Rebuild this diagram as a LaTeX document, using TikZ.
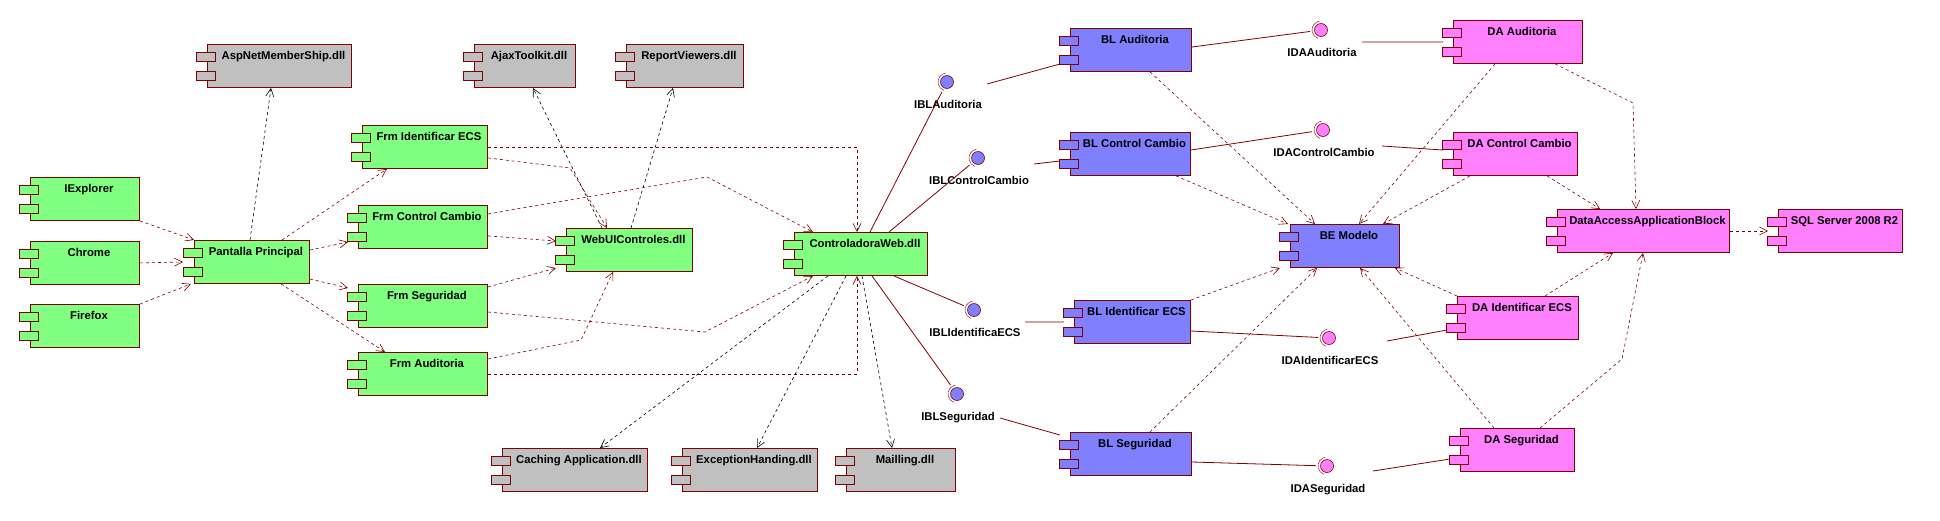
\documentclass[tikz,border=0pt]{standalone}
\usepackage{fontspec}
\setmainfont{Liberation Sans}
\usetikzlibrary{calc}
\usetikzlibrary{arrows.meta}
\usepackage{xcolor}
\definecolor{borde}{HTML}{800000}
\definecolor{verde}{HTML}{80FF80}
\definecolor{gris}{HTML}{C0C0C0}
\definecolor{azul}{HTML}{8080FF}
\definecolor{rosa}{HTML}{FF80FF}

\begin{document}
\begin{tikzpicture}[x=1pt,y=-1pt,
  comp/.style={rectangle,draw=borde,line width=0.9pt,minimum height=43pt,inner sep=0pt,anchor=north west},
  tabbox/.style={draw=borde,line width=0.9pt},
  rotulo/.style={font=\bfseries\fontsize{11.3}{13}\selectfont,inner sep=0pt,text=black},
  iface/.style={circle,draw=borde,line width=0.6pt,minimum size=13pt,inner sep=0pt},
  anillo/.style={draw=borde,line width=0.4pt},
  dep/.style={draw=borde,line width=0.6pt,dash pattern=on 3pt off 3pt,arrows={-{Straight Barb[length=8pt,width=8pt]}}},
  libdep/.style={dep,draw=black},
  wire/.style={draw=borde,line width=0.8pt},
  wirei/.style={wire,shorten >=11pt}]
\newcommand{\componente}[6]{
  \node[comp,fill=#5,minimum width={(#4-#2)*1pt}] (#1) at (#2,#3) {};
  \draw[tabbox,fill=#5] ($(#1.north west)+(-11,8)$) rectangle ++(19,9);
  \draw[tabbox,fill=#5] ($(#1.north west)+(-11,27)$) rectangle ++(19,9);
  \node[rotulo,anchor=base] (#1-t) at ($(#1.north)+(4,15)$) {#6};
}
\newcommand{\interfaz}[5]{
  \node[iface,fill=#4] (#1) at (#2,#3) {};
  \draw[anillo] ($(#1)+(-100:9)$) arc[start angle=-100,end angle=-250,radius=9];
  \node[rotulo,anchor=base] (#1-t) at ($(#1)+(1,26)$) {#5};
}
\useasboundingbox (0,0) rectangle (1940,520);

\componente{asp}{207}{44}{351}{gris}{AspNetMemberShip.dll}
\componente{ajax}{474}{44}{575}{gris}{AjaxToolkit.dll}
\componente{rep}{626}{44}{743}{gris}{ReportViewers.dll}
\componente{ie}{30}{177}{139}{verde}{IExplorer}
\componente{ch}{30}{241}{139}{verde}{Chrome}
\componente{ff}{30}{304}{139}{verde}{Firefox}
\componente{pp}{194}{240}{309}{verde}{Pantalla Principal}
\componente{fie}{362}{125}{487}{verde}{Frm Identificar ECS}
\componente{fcc}{358}{205}{487}{verde}{Frm Control Cambio}
\componente{fseg}{358}{284}{487}{verde}{Frm Seguridad}
\componente{faud}{358}{352}{487}{verde}{Frm Auditoria}
\componente{webui}{566}{228}{692}{verde}{WebUIControles.dll}
\componente{ctrl}{794}{232}{927}{verde}{ControladoraWeb.dll}
\componente{cach}{502}{448}{647}{gris}{Caching Application.dll}
\componente{exc}{682}{448}{817}{gris}{ExceptionHanding.dll}
\componente{mail}{846}{448}{955}{gris}{Mailling.dll}
\componente{blaud}{1070}{28}{1191}{azul}{BL Auditoria}
\componente{blcc}{1070}{132}{1190}{azul}{BL Control Cambio}
\componente{blie}{1074}{300}{1190}{azul}{BL Identificar ECS}
\componente{blseg}{1070}{432}{1191}{azul}{BL Seguridad}
\componente{bem}{1290}{224}{1399}{azul}{BE Modelo}
\componente{daaud}{1453}{20}{1582}{rosa}{DA Auditoria}
\componente{dacc}{1453}{132}{1577}{rosa}{DA Control Cambio}
\componente{daie}{1457}{296}{1578}{rosa}{DA Identificar ECS}
\componente{daseg}{1460}{428}{1574}{rosa}{DA Seguridad}
\componente{daab}{1557}{209}{1729}{rosa}{DataAccessApplicationBlock}
\componente{sql}{1778}{209}{1902}{rosa}{SQL Server 2008 R2}

\interfaz{iblaud}{947}{82}{azul}{IBLAuditoria}
\interfaz{iblcc}{978}{158}{azul}{IBLControlCambio}
\interfaz{iblie}{974}{310}{azul}{IBLIdentificaECS}
\interfaz{iblseg}{957}{394}{azul}{IBLSeguridad}
\interfaz{idaaud}{1321}{30}{rosa}{IDAAuditoria}
\interfaz{idacc}{1323}{130}{rosa}{IDAControlCambio}
\interfaz{idaie}{1329}{338}{rosa}{IDAIdentificarECS}
\interfaz{idaseg}{1327}{466}{rosa}{IDASeguridad}

\draw[dep] (ie.south east) -- (pp.north west);
\draw[dep] (ch.east) -- ($(pp.west)+(-11,0)$);
\draw[dep] (ff.north east) -- ($(pp.south west)+(-3,0)$);
\draw[libdep] ($(pp.north west)+(56,0)$) -- ($(asp.south west)+(64,0)$);
\draw[dep] ($(pp.north west)+(88,0)$) -- ($(fie.south west)+(25,0)$);
\draw[dep] ($(pp.north east)+(0,10)$) -- ($(fcc.north west)+(-10,37)$);
\draw[dep] ($(pp.north east)+(0,39)$) -- ($(fseg.north west)+(-10,4)$);
\draw[dep] ($(pp.south west)+(87,0)$) -- ($(faud.north west)+(27,0)$);

\draw[dep] (fie.east) -| ($(ctrl.north west)+(63,0)$);
\draw[dep] ($(fie.south east)+(0,-11)$) -- (570,168) -- ($(webui.north west)+(41,0)$);
\draw[dep] ($(fcc.north east)+(0,9)$) -- (516,209) -- (707,177) -- ($(ctrl.north west)+(19,0)$);
\draw[dep] ($(fcc.south east)+(0,-13)$) -- ($(webui.north west)+(-10,13)$);
\draw[dep] ($(fseg.north east)+(0,3)$) -- ($(webui.north west)+(-10,40)$);
\draw[dep] ($(fseg.north east)+(0,28)$) -- (705,332) -- ($(ctrl.south west)+(19,0)$);
\draw[dep] ($(faud.north east)+(0,7)$) -- (581,340) -- ($(webui.south west)+(47,0)$);
\draw[dep] ($(faud.north east)+(0,22)$) -| ($(ctrl.south west)+(63,0)$);

\draw[libdep] ($(webui.north west)+(36,0)$) -- ($(ajax.south west)+(59,0)$);
\draw[libdep] ($(webui.north west)+(65,0)$) -- ($(rep.south west)+(47,0)$);
\draw[libdep] ($(ctrl.south west)+(34,0)$) -- ($(cach.north west)+(98,0)$);
\draw[libdep] ($(ctrl.south west)+(52,0)$) -- ($(exc.north west)+(75,0)$);
\draw[libdep] ($(ctrl.south west)+(68,0)$) -- ($(mail.north west)+(46,0)$);

\draw[wirei] ($(ctrl.north west)+(76,0)$) -- (iblaud.center);
\draw[wirei] ($(ctrl.north west)+(95,0)$) -- (iblcc.center);
\draw[wirei] ($(ctrl.south east)+(-34,0)$) -- (iblie.center);
\draw[wirei] ($(ctrl.south west)+(78,0)$) -- (iblseg.center);
\draw[wire] ($(iblaud)+(40,2)$) -- ($(blaud.north west)+(-10,36)$);
\draw[wire] ($(iblcc)+(56,6)$) -- ($(blcc.north west)+(-10,29)$);
\draw[wire] ($(iblie)+(51,12)$) -- ($(blie.west)+(-10,0)$);
\draw[wire] ($(iblseg)+(43,24)$) -- ($(blseg.north west)+(-10,3)$);

\draw[wirei] ($(blaud.north east)+(0,19)$) -- (idaaud.center);
\draw[wirei] ($(blcc.north east)+(0,18)$) -- (idacc.center);
\draw[wirei] ($(blie.north east)+(0,31)$) -- (idaie.center);
\draw[wirei] ($(blseg.north east)+(0,30)$) -- (idaseg.center);
\draw[wire] ($(idaaud)+(41,12)$) -- ($(daaud.west)+(-10,0)$);
\draw[wire] ($(idacc)+(59,16)$) -- ($(dacc.north west)+(-10,18)$);
\draw[wire] ($(idaie)+(58,3)$) -- ($(daie.north west)+(-10,34)$);
\draw[wire] ($(idaseg)+(46,5)$) -- ($(daseg.north west)+(-10,31)$);

\draw[dep] ($(blaud.south west)+(80,0)$) -- ($(bem.north west)+(25,0)$);
\draw[dep] ($(blcc.south west)+(106,0)$) -- ($(bem.north west)+(-2,0)$);
\draw[dep] ($(daaud.south west)+(42,0)$) -- ($(bem.north west)+(69,0)$);
\draw[dep] ($(dacc.south west)+(17,0)$) -- ($(bem.north west)+(93,0)$);
\draw[dep] (blie.north east) -- ($(bem.south west)+(-10,0)$);
\draw[dep] ($(blseg.north west)+(80,0)$) -- ($(bem.south west)+(27,0)$);
\draw[dep] (daie.north west) -- ($(bem.south east)+(-5,0)$);
\draw[dep] ($(daseg.north west)+(34,0)$) -- ($(bem.south west)+(70,0)$);

\draw[dep] ($(daaud.south west)+(102,0)$) -- (1633,103) -- ($(daab.north west)+(79,0)$);
\draw[dep] ($(dacc.south west)+(94,0)$) -- ($(daab.north west)+(43,0)$);
\draw[dep] ($(daie.north west)+(88,0)$) -- ($(daab.south west)+(56,0)$);
\draw[dep] ($(daseg.north west)+(80,0)$) -- (1622,359) -- ($(daab.south west)+(86,0)$);
\draw[dep] (daab.east) -- ($(sql.west)+(-10,0)$);

\end{tikzpicture}
\end{document}
